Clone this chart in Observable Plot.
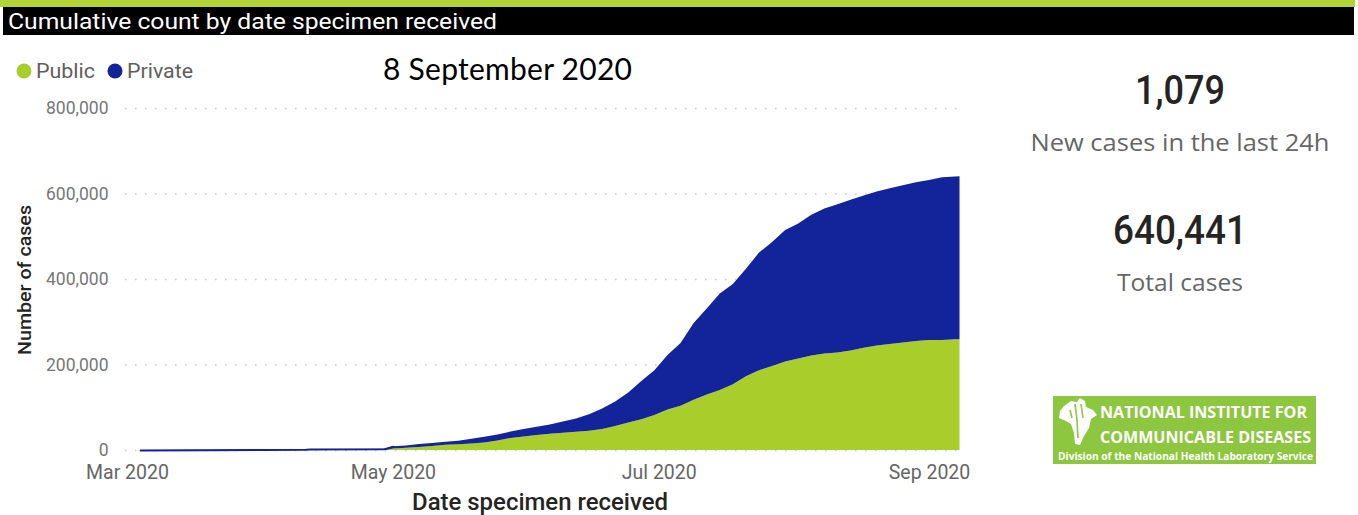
<!DOCTYPE html>
<html>
<head>
<meta charset="utf-8">
<script src="https://cdn.jsdelivr.net/npm/d3@7"></script>
<script src="https://cdn.jsdelivr.net/npm/@observablehq/plot@0.6"></script>
<style>
  html, body { margin: 0; padding: 0; background: #fff; }
  #root { position: relative; width: 1358px; height: 515px; overflow: hidden; }
  #chart { position: absolute; left: 0; top: 0; }
  #overlay { position: absolute; left: 0; top: 0; pointer-events: none; }
</style>
</head>
<body>
<div id="root">
  <div id="chart"></div>
  <svg id="overlay" width="1358" height="515"></svg>
</div>
<script>
// ---------------- data ----------------
const dates = [
  "2020-03-04","2020-03-20","2020-04-01","2020-04-11","2020-04-12","2020-04-29",
  "2020-05-01","2020-05-04","2020-05-07","2020-05-10","2020-05-13","2020-05-16","2020-05-19","2020-05-22","2020-05-25","2020-05-28","2020-05-31",
  "2020-06-03","2020-06-06","2020-06-09","2020-06-12","2020-06-15","2020-06-18","2020-06-21","2020-06-24","2020-06-27","2020-06-30",
  "2020-07-03","2020-07-06","2020-07-09","2020-07-12","2020-07-15","2020-07-18","2020-07-21","2020-07-24","2020-07-27","2020-07-30",
  "2020-08-02","2020-08-05","2020-08-08","2020-08-11","2020-08-14","2020-08-17","2020-08-20","2020-08-23","2020-08-26","2020-08-29",
  "2020-09-01","2020-09-04","2020-09-07","2020-09-08"
];
const publicCases = [
  0,0,0,0,0,0,
  3400,5100,6900,9500,12000,13700,15400,17800,22200,28100,31800,
  34900,37900,40200,42600,45100,49100,55900,64300,72000,81900,
  94700,103600,117300,130100,140100,153900,172600,186400,196500,206800,
  214300,220800,226000,228200,233000,239300,244200,248000,251700,254700,
  257300,257500,258900,259200
];
const privateCases = [
  100,300,1000,1500,2500,3000,
  5300,5300,6900,7000,7200,8200,10800,13200,14200,15100,17100,
  19400,22000,26500,31300,38400,47700,57800,70400,89400,104800,
  127500,146700,180000,200700,226000,234600,251500,275400,290300,307800,
  315800,329600,338900,346800,352300,356300,360300,364100,367700,371500,
  374100,380700,380900,381241
];
const seriesNames = ["Public", "Private"];
const seriesColors = ["#a9cd2b", "#13239a"];
const yTicks = [0, 200000, 400000, 600000, 800000];
const xTicks = ["2020-03-01", "2020-05-01", "2020-07-01", "2020-09-01"];
const xDomain = ["2020-03-01", "2020-09-01"];

const titleText = "Cumulative count by date specimen received";
const reportDate = "8 September 2020";
const yLabel = "Number of cases";
const xLabel = "Date specimen received";
const newCases = "1,079";
const newCasesLabel = "New cases in the last 24h";
const totalCases = "640,441";
const totalCasesLabel = "Total cases";

// ---------------- build ----------------
const parse = d3.utcParse("%Y-%m-%d");
const rows = [];
dates.forEach((d, i) => {
  rows.push({date: parse(d), series: "Public", value: publicCases[i]});
  rows.push({date: parse(d), series: "Private", value: privateCases[i]});
});
const totals = dates.map((d, i) => ({date: parse(d), value: publicCases[i] + privateCases[i]}));

const chart = Plot.plot({
  width: 1000,
  height: 515,
  marginLeft: 112,
  marginRight: 0,
  marginTop: 100,
  marginBottom: 65,
  style: {background: "transparent", fontFamily: "Roboto, sans-serif", overflow: "visible"},
  x: {type: "utc", domain: xDomain.map(parse), range: [127, 929]},
  y: {domain: [0, 800000], range: [450, 108]},
  color: {domain: seriesNames, range: seriesColors},
  marks: [
    Plot.ruleY(yTicks, {stroke: "#c8c8c8", strokeWidth: 1.5, strokeDasharray: "1.5,8.5", insetLeft: 13, insetRight: 38}),
    Plot.areaY(rows, {x: "date", y: "value", fill: "series", order: seriesNames, curve: "linear"}),
    Plot.lineY(totals.filter(d => d.date < parse("2020-05-02")), {x: "date", y: "value", stroke: seriesColors[1], strokeWidth: 2}),
    Plot.axisY({ticks: yTicks, tickSize: 0, tickPadding: 4, tickFormat: d3.format(","), fontSize: 17.5, fill: "#777", label: null}),
    Plot.axisX({ticks: xTicks.map(parse), tickSize: 0, tickPadding: 15, tickFormat: d3.utcFormat("%b %Y"), fontSize: 19.5, fill: "#666", label: null})
  ]
});
document.getElementById("chart").appendChild(chart);

// ---------------- overlay: header, legend, labels, KPIs, logo ----------------
const svg = d3.select("#overlay");
svg.append("rect").attr("x", 0).attr("y", 0).attr("width", 1355).attr("height", 7).attr("fill", "#b2d235");
svg.append("rect").attr("x", 3).attr("y", 7).attr("width", 1351).attr("height", 28).attr("fill", "#000");
svg.append("text").attr("x", 8).attr("y", 29).attr("fill", "#fff")
  .attr("textLength", 489).attr("lengthAdjust", "spacingAndGlyphs")
  .style("font-family", "Roboto, sans-serif").style("font-size", "22px").text(titleText);

// legend
const legendX = [24, 115];
const legendW = [59, 66];
seriesNames.forEach((s, i) => {
  svg.append("circle").attr("cx", legendX[i]).attr("cy", 71).attr("r", 7.5).attr("fill", seriesColors[i]);
  svg.append("text").attr("x", legendX[i] + 12).attr("y", 78).attr("fill", "#605e5c")
    .attr("textLength", legendW[i]).attr("lengthAdjust", "spacingAndGlyphs")
    .style("font-family", "Roboto, sans-serif").style("font-size", "20px").text(s);
});

svg.append("text").attr("x", 383).attr("y", 80).attr("fill", "#000")
  .attr("textLength", 249).attr("lengthAdjust", "spacing")
  .style("font-family", "Lato, sans-serif").style("font-size", "30px").text(reportDate);

svg.append("text").attr("transform", "translate(31,280) rotate(-90)").attr("text-anchor", "middle")
  .attr("fill", "#252423").style("font-family", "Roboto, sans-serif").style("font-weight", 500)
  .attr("textLength", 150).attr("lengthAdjust", "spacingAndGlyphs")
  .style("font-size", "19px").text(yLabel);

svg.append("text").attr("x", 540).attr("y", 510).attr("text-anchor", "middle").attr("fill", "#252423")
  .attr("textLength", 256).attr("lengthAdjust", "spacingAndGlyphs")
  .style("font-family", "Roboto, sans-serif").style("font-weight", 500).style("font-size", "23px").text(xLabel);

// KPI cards
const kpi = [
  {v: newCases, l: newCasesLabel, vy: 104, ly: 151, vw: 90, lw: 299},
  {v: totalCases, l: totalCasesLabel, vy: 244, ly: 291, vw: 134, lw: 126}
];
kpi.forEach(k => {
  svg.append("text").attr("x", 1180).attr("y", k.vy).attr("text-anchor", "middle").attr("fill", "#252423")
    .attr("textLength", k.vw).attr("lengthAdjust", "spacingAndGlyphs")
    .style("font-family", "Roboto, sans-serif").style("font-weight", 500).style("font-size", "41px").text(k.v);
  svg.append("text").attr("x", 1180).attr("y", k.ly).attr("text-anchor", "middle").attr("fill", "#666")
    .attr("textLength", k.lw).attr("lengthAdjust", "spacingAndGlyphs")
    .style("font-family", "'Open Sans', sans-serif").style("font-size", "24.5px").text(k.l);
});

// logo
const logo = svg.append("g");
logo.append("rect").attr("x", 1053).attr("y", 396).attr("width", 263).attr("height", 68).attr("fill", "#8dc63f");
logo.append("path").attr("fill", "#fff")
  .attr("d", "M1064,406 L1071,401 L1077,402 L1080,398 L1085,401 L1086,407 L1093,410 L1097,415 L1091,419 L1089,428 L1084,436 L1080,445 L1075,444 L1074,433 L1071,424 L1066,421 L1059,418 L1060,411 Z");
logo.append("path").attr("fill", "none").attr("stroke", "#8dc63f").attr("stroke-width", 1.6)
  .attr("d", "M1075,404 L1077,420 L1078,438 M1081,404 L1083,418 M1070,410 L1072,418");
logo.append("text").attr("x", 1100).attr("y", 418).attr("fill", "#fff")
  .attr("textLength", 207).attr("lengthAdjust", "spacingAndGlyphs")
  .style("font-family", "'Open Sans', sans-serif").style("font-weight", 700).style("font-size", "16px").text("NATIONAL INSTITUTE FOR");
logo.append("text").attr("x", 1100).attr("y", 443).attr("fill", "#fff")
  .attr("textLength", 211).attr("lengthAdjust", "spacingAndGlyphs")
  .style("font-family", "'Open Sans', sans-serif").style("font-weight", 700).style("font-size", "16px").text("COMMUNICABLE DISEASES");
logo.append("text").attr("x", 1058).attr("y", 460).attr("fill", "#fff")
  .attr("textLength", 255).attr("lengthAdjust", "spacingAndGlyphs")
  .style("font-family", "'Open Sans', sans-serif").style("font-weight", 700).style("font-size", "10.5px").text("Division of the National Health Laboratory Service");
</script>
</body>
</html>
